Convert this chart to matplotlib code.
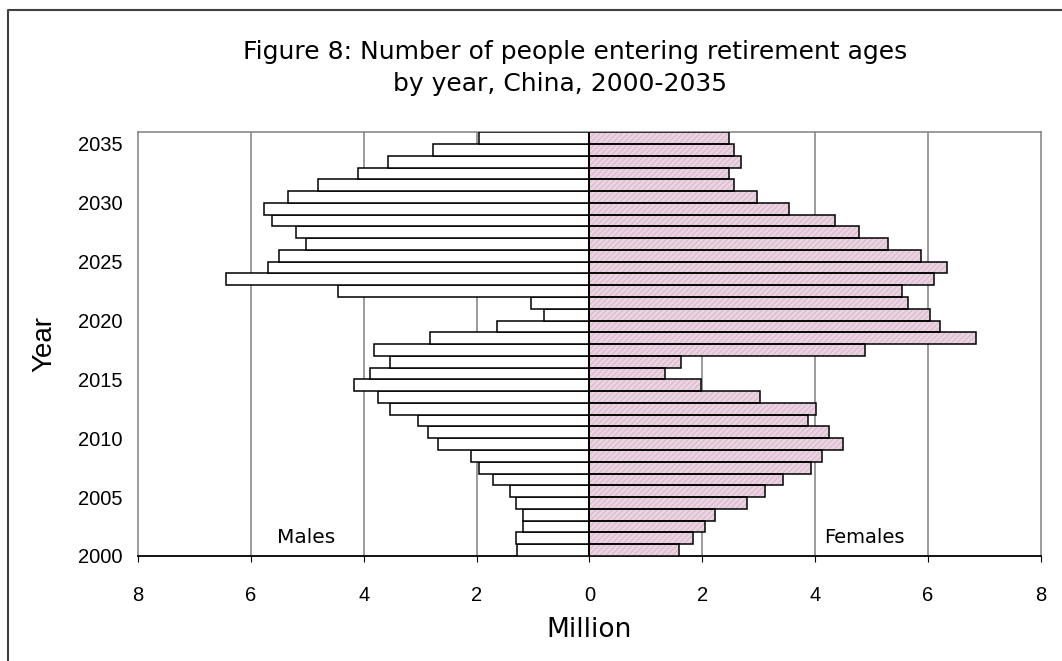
import matplotlib.pyplot as plt
from matplotlib.lines import Line2D

# Number of people entering retirement ages (million), 2000-2035
anos = list(range(2000, 2036))
homens = [1.28, 1.31, 1.17, 1.17, 1.31, 1.41, 1.70, 1.95, 2.09, 2.69,
          2.86, 3.04, 3.54, 3.75, 4.17, 3.89, 3.54, 3.82, 2.83, 1.63,
          0.81, 1.03, 4.46, 6.44, 5.69, 5.51, 5.02, 5.20, 5.62, 5.76,
          5.34, 4.81, 4.10, 3.57, 2.77, 1.96]
mulheres = [1.58, 1.84, 2.05, 2.22, 2.79, 3.11, 3.43, 3.92, 4.13, 4.49,
            4.24, 3.88, 4.02, 3.03, 1.98, 1.34, 1.63, 4.88, 6.86, 6.22,
            6.04, 5.65, 5.54, 6.11, 6.33, 5.87, 5.30, 4.77, 4.35, 3.53,
            2.97, 2.57, 2.47, 2.69, 2.57, 2.47]
anos_ticks = list(range(2000, 2036, 5))
x_ticks = [-8, -6, -4, -2, 0, 2, 4, 6, 8]
x_labels = ['8', '6', '4', '2', '0', '2', '4', '6', '8']

plt.rcParams['font.family'] = ['Liberation Sans', 'DejaVu Sans']
plt.rcParams['hatch.linewidth'] = 0.6
dejavu = ['DejaVu Sans']

fig = plt.figure(figsize=(10.62, 6.61), dpi=100)
ax = fig.add_axes([0.130, 0.159, 0.850, 0.641])

# Homens a esquerda (valores negativos), mulheres a direita
ax.barh(anos, [-h for h in homens], height=1.0, align='edge',
        color='white', edgecolor='black', linewidth=1.1, zorder=3)
ax.barh(anos, mulheres, height=1.0, align='edge',
        color='#ebd3e2', edgecolor='#d3b2c6', hatch='//////', linewidth=0, zorder=3)
ax.barh(anos, mulheres, height=1.0, align='edge',
        color='none', edgecolor='black', linewidth=1.1, zorder=4)

ax.set_xlim(-8, 8)
ax.set_ylim(2000, 2036)
ax.set_xticks(x_ticks)
ax.set_xticklabels(x_labels, fontsize=14.5)
ax.set_yticks(anos_ticks)
ax.set_yticklabels([str(a) for a in anos_ticks], fontsize=14.5)
ax.tick_params(axis='x', length=4, pad=18, color='black')
ax.tick_params(axis='y', length=0, pad=11)

for x in [-6, -4, -2, 2, 4, 6]:
    ax.axvline(x, color='#808080', linewidth=1.1, zorder=1)
ax.axvline(0, color='black', linewidth=1.3, zorder=5)

for lado in ['top', 'left', 'right']:
    ax.spines[lado].set_color('#808080')
    ax.spines[lado].set_linewidth(1.1)
ax.spines['bottom'].set_color('black')
ax.spines['bottom'].set_linewidth(1.3)

ax.text(-5.02, 2001.6, 'Males', fontsize=14.5, family=dejavu, ha='center', va='center')
ax.text(4.88, 2001.6, 'Females', fontsize=14, family=dejavu, ha='center', va='center')

ax.set_xlabel('Million', fontsize=19, family=dejavu, labelpad=8)
ax.set_ylabel('Year', fontsize=20, labelpad=15)

fig.text(575 / 1062, 1 - 52 / 661, 'Figure 8: Number of people entering retirement ages',
         fontsize=18, family=dejavu, ha='center', va='center')
fig.text(560 / 1062, 1 - 84 / 661, 'by year, China, 2000-2035',
         fontsize=18, family=dejavu, ha='center', va='center')

# Moldura externa do grafico
fig.add_artist(Line2D([0.0075, 0.0075, 1.0], [0.0, 0.985, 0.985],
                      transform=fig.transFigure, color='#404040', linewidth=1.5))

plt.savefig('out.png', dpi=100)
